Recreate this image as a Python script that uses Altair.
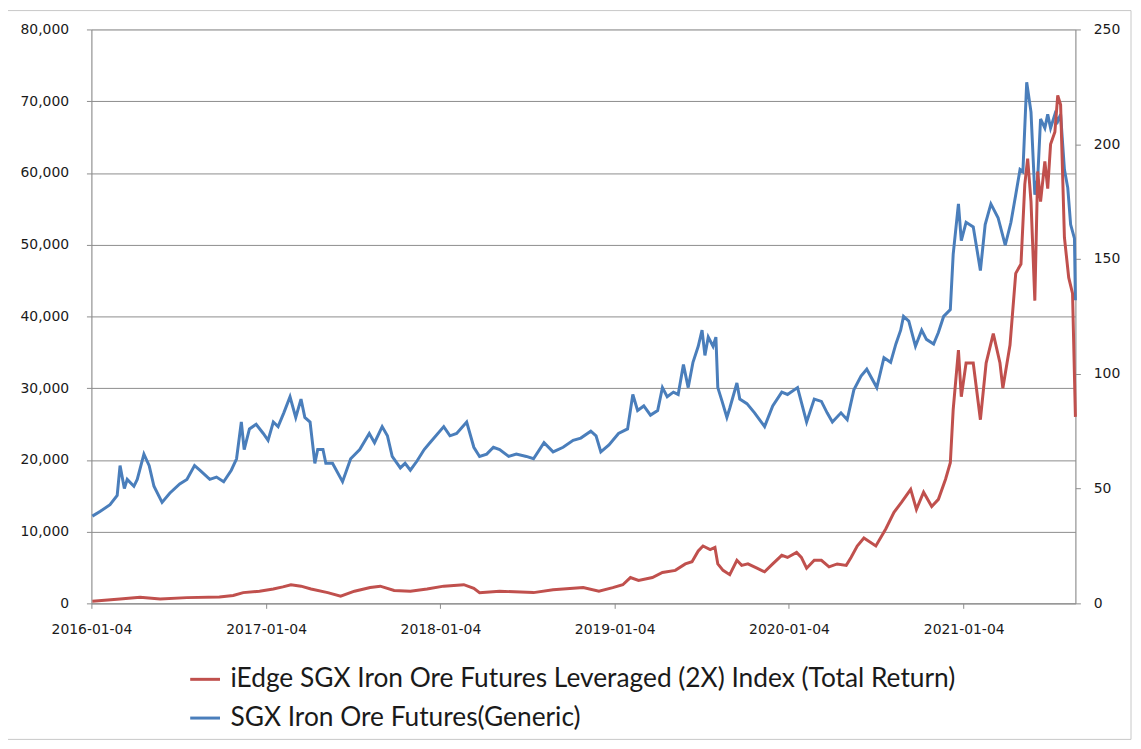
import altair as alt
import pandas as pd

RED_NAME = "iEdge SGX Iron Ore Futures Leveraged (2X) Index (Total Return)"
BLUE_NAME = "SGX Iron Ore Futures(Generic)"

blue_dates = [
    "2016-01-06", "2016-01-22", "2016-02-12", "2016-02-27", "2016-03-04", "2016-03-13", "2016-03-19",
    "2016-04-02", "2016-04-09", "2016-04-23", "2016-05-04", "2016-05-14", "2016-05-31", "2016-06-16",
    "2016-07-07", "2016-07-22", "2016-08-07", "2016-08-18", "2016-09-08", "2016-09-22", "2016-10-07",
    "2016-10-23", "2016-11-03", "2016-11-13", "2016-11-19", "2016-11-30", "2016-12-14", "2016-12-29",
    "2017-01-08", "2017-01-19", "2017-01-29", "2017-02-10", "2017-02-23", "2017-03-07", "2017-03-18",
    "2017-03-26", "2017-04-06", "2017-04-16", "2017-04-22", "2017-05-03", "2017-05-09", "2017-05-23",
    "2017-06-13", "2017-06-30", "2017-07-19", "2017-08-08", "2017-08-19", "2017-09-04", "2017-09-15",
    "2017-09-25", "2017-10-12", "2017-10-22", "2017-11-02", "2017-11-16", "2017-12-01", "2017-12-13",
    "2018-01-11", "2018-01-24", "2018-02-07", "2018-02-28", "2018-03-15", "2018-03-27", "2018-04-11",
    "2018-04-25", "2018-05-08", "2018-05-27", "2018-06-12", "2018-07-03", "2018-07-18", "2018-08-09",
    "2018-08-28", "2018-09-18", "2018-10-09", "2018-10-25", "2018-11-15", "2018-11-26", "2018-12-06",
    "2018-12-23", "2019-01-12", "2019-01-31", "2019-02-11", "2019-02-21", "2019-03-06", "2019-03-20",
    "2019-04-04", "2019-04-14", "2019-04-24", "2019-05-07", "2019-05-17", "2019-05-28", "2019-06-07",
    "2019-06-17", "2019-06-28", "2019-07-06", "2019-07-12", "2019-07-19", "2019-07-29", "2019-08-04",
    "2019-08-08", "2019-08-17", "2019-08-27", "2019-09-02", "2019-09-17", "2019-09-23", "2019-10-08",
    "2019-10-24", "2019-11-14", "2019-12-01", "2019-12-20", "2020-01-01", "2020-01-22", "2020-02-10",
    "2020-02-26", "2020-03-12", "2020-03-24", "2020-04-04", "2020-04-22", "2020-05-05", "2020-05-19",
    "2020-06-03", "2020-06-15", "2020-07-06", "2020-07-21", "2020-08-04", "2020-08-15", "2020-08-25",
    "2020-08-31", "2020-09-11", "2020-09-25", "2020-10-08", "2020-10-18", "2020-11-02", "2020-11-12",
    "2020-11-23", "2020-12-07", "2020-12-13", "2020-12-24", "2020-12-30", "2021-01-09", "2021-01-24",
    "2021-02-08", "2021-02-18", "2021-03-02", "2021-03-17", "2021-04-01", "2021-04-13", "2021-04-23",
    "2021-05-02", "2021-05-08", "2021-05-16", "2021-05-25", "2021-06-02", "2021-06-08", "2021-06-14",
    "2021-06-23", "2021-06-29", "2021-07-05", "2021-07-14", "2021-07-20", "2021-07-26", "2021-08-03",
    "2021-08-10", "2021-08-16", "2021-08-24", "2021-08-26",
]
blue_values = [
    38, 40, 43, 47, 60, 50, 54,
    51, 54, 65, 60, 51, 44, 48,
    52, 54, 60, 58, 54, 55, 53,
    58, 63, 79, 67, 76, 78, 74,
    71, 79, 77, 83, 90, 81, 89,
    81, 79, 61, 67, 67, 61, 61,
    53, 63, 67, 74, 70, 77, 73,
    64, 59, 61, 58, 62, 67, 70,
    77, 73, 74, 79, 68, 64, 65,
    68, 67, 64, 65, 64, 63, 70,
    66, 68, 71, 72, 75, 73, 66,
    69, 74, 76, 91, 84, 86, 82,
    84, 94, 90, 92, 91, 104, 94,
    105, 112, 119, 108, 116, 112, 116,
    94, 88, 81, 85, 96, 89, 87,
    83, 77, 86, 92, 91, 94, 79,
    89, 88, 83, 79, 83, 80, 93,
    99, 102, 94, 107, 105, 113, 119,
    125, 123, 112, 119, 115, 113, 118,
    125, 128, 152, 174, 158, 166, 164,
    145, 165, 174, 168, 156, 166, 178,
    189, 188, 227, 214, 178, 185, 211,
    207, 213, 207, 213, 210, 213, 189,
    181, 165, 159, 132,
]

red_dates = [
    "2016-01-06", "2016-03-04", "2016-04-15", "2016-05-27", "2016-07-22", "2016-09-28", "2016-10-27",
    "2016-11-17", "2016-12-21", "2017-01-19", "2017-02-08", "2017-02-25", "2017-03-18", "2017-04-08",
    "2017-05-13", "2017-06-09", "2017-07-08", "2017-08-10", "2017-08-31", "2017-09-29", "2017-11-02",
    "2017-12-07", "2018-01-11", "2018-02-22", "2018-03-15", "2018-03-27", "2018-05-08", "2018-07-18",
    "2018-08-28", "2018-10-30", "2018-12-02", "2018-12-31", "2019-01-21", "2019-02-06", "2019-02-23",
    "2019-03-24", "2019-04-14", "2019-05-11", "2019-06-01", "2019-06-15", "2019-06-28", "2019-07-08",
    "2019-07-23", "2019-08-02", "2019-08-08", "2019-08-19", "2019-09-02", "2019-09-17", "2019-09-27",
    "2019-10-10", "2019-10-29", "2019-11-14", "2019-12-01", "2019-12-20", "2020-01-01", "2020-01-20",
    "2020-01-30", "2020-02-10", "2020-02-26", "2020-03-12", "2020-03-28", "2020-04-14", "2020-05-03",
    "2020-05-13", "2020-05-26", "2020-06-09", "2020-07-04", "2020-07-25", "2020-08-11", "2020-08-27",
    "2020-09-15", "2020-09-27", "2020-10-12", "2020-10-29", "2020-11-12", "2020-11-27", "2020-12-07",
    "2020-12-13", "2020-12-24", "2020-12-30", "2021-01-09", "2021-01-24", "2021-02-08", "2021-02-20",
    "2021-03-07", "2021-03-21", "2021-03-27", "2021-04-11", "2021-04-23", "2021-05-04", "2021-05-12",
    "2021-05-18", "2021-05-25", "2021-06-02", "2021-06-08", "2021-06-14", "2021-06-23", "2021-06-29",
    "2021-07-05", "2021-07-14", "2021-07-20", "2021-07-26", "2021-08-03", "2021-08-12", "2021-08-20",
    "2021-08-26",
]
red_values = [
    300, 600, 850, 600, 800, 900, 1100,
    1500, 1700, 2000, 2300, 2600, 2400, 2000,
    1500, 1000, 1700, 2200, 2400, 1800, 1700,
    2000, 2400, 2600, 2100, 1500, 1700, 1500,
    1900, 2200, 1700, 2200, 2600, 3600, 3200,
    3600, 4300, 4600, 5500, 5800, 7300, 8000,
    7500, 7800, 5500, 4600, 4000, 6000, 5300,
    5500, 4900, 4400, 5500, 6700, 6400, 7100,
    6400, 4900, 6000, 6000, 5100, 5500, 5300,
    6400, 8000, 9100, 8000, 10400, 12700, 14100,
    15900, 13100, 15500, 13500, 14500, 17300, 19600,
    27000, 35300, 28800, 33500, 33500, 25600, 33500,
    37600, 33500, 30000, 36000, 46000, 47300, 58400,
    62000, 56000, 42200, 60200, 56000, 61600, 57800,
    64000, 65700, 70800, 69500, 51000, 45400, 43200,
    26000,
]

left_ticks = [0, 10000, 20000, 30000, 40000, 50000, 60000, 70000, 80000]
right_ticks = [0, 50, 100, 150, 200, 250]
x_tick_years = [2016, 2017, 2018, 2019, 2020, 2021]

RED = "#C0504D"
BLUE = "#4A7EBB"
GRID = "#8C8C8C"
TICK_FONT = "DejaVu Sans"

df = pd.concat([
    pd.DataFrame({"date": red_dates, "value": red_values, "series": RED_NAME}),
    pd.DataFrame({"date": blue_dates, "value": blue_values, "series": BLUE_NAME}),
])

x_enc = alt.X(
    "date:T",
    scale=alt.Scale(type="utc",
                    domain=[alt.DateTime(year=2016, month=1, date=4, utc=True),
                            alt.DateTime(year=2021, month=8, date=26, utc=True)]),
    axis=alt.Axis(
        title=None,
        values=[alt.DateTime(year=y, month=1, date=4, utc=True) for y in x_tick_years],
        format="%Y-%m-%d",
        grid=False,
        labelFlush=False,
        domainColor=GRID,
        tickColor=GRID,
        tickSize=5,
        labelFont=TICK_FONT,
        labelFontSize=14,
        labelColor="#1a1a1a",
        labelPadding=14,
    ),
)

color_enc = alt.Color(
    "series:N",
    scale=alt.Scale(domain=[RED_NAME, BLUE_NAME], range=[RED, BLUE]),
    legend=alt.Legend(
        title=None,
        orient="none",
        legendX=98,
        legendY=638,
        direction="vertical",
        symbolType="stroke",
        symbolSize=900,
        symbolStrokeWidth=3,
        labelFont="Lato",
        labelFontSize=26.5,
        labelColor="#1a1a1a",
        labelOffset=9,
        rowPadding=9,
        labelLimit=1000,
    ),
)

red_line = alt.Chart(df).transform_filter(
    alt.datum.series == RED_NAME
).mark_line(strokeWidth=3).encode(
    x=x_enc,
    y=alt.Y(
        "value:Q",
        scale=alt.Scale(domain=[0, 80000]),
        axis=alt.Axis(
            title=None,
            values=left_ticks,
            format=",.0f",
            grid=True,
            gridColor=GRID,
            gridWidth=1,
            domainColor=GRID,
            tickColor=GRID,
            tickSize=5,
            labelFont=TICK_FONT,
            labelFontSize=14,
            labelColor="#1a1a1a",
            labelPadding=18,
        ),
    ),
    color=color_enc,
)

blue_line = alt.Chart(df).transform_filter(
    alt.datum.series == BLUE_NAME
).mark_line(strokeWidth=3).encode(
    x=x_enc,
    y=alt.Y(
        "value:Q",
        scale=alt.Scale(domain=[0, 250]),
        axis=alt.Axis(
            title=None,
            orient="right",
            values=right_ticks,
            grid=False,
            domainColor=GRID,
            tickColor=GRID,
            tickSize=5,
            labelFont=TICK_FONT,
            labelFontSize=14,
            labelColor="#1a1a1a",
            labelPadding=13,
        ),
    ),
    color=color_enc,
)

frame = alt.Chart(pd.DataFrame({"k": [0]})).mark_rect(
    fill=None, stroke="#C8C8C8", strokeWidth=1
).encode(
    x=alt.value(-85), x2=alt.value(1047),
    y=alt.value(-19), y2=alt.value(715),
)

chart = alt.layer(frame, blue_line, red_line).resolve_scale(
    y="independent"
).properties(
    width=991,
    height=578,
    autosize=alt.AutoSizeParams(type="none"),
    padding={"left": 84, "top": 19, "right": 58, "bottom": 136},
).configure_view(
    stroke=None
).configure(
    background="white"
)

chart.save("out.html", embed_options={"renderer": "svg", "actions": False})
